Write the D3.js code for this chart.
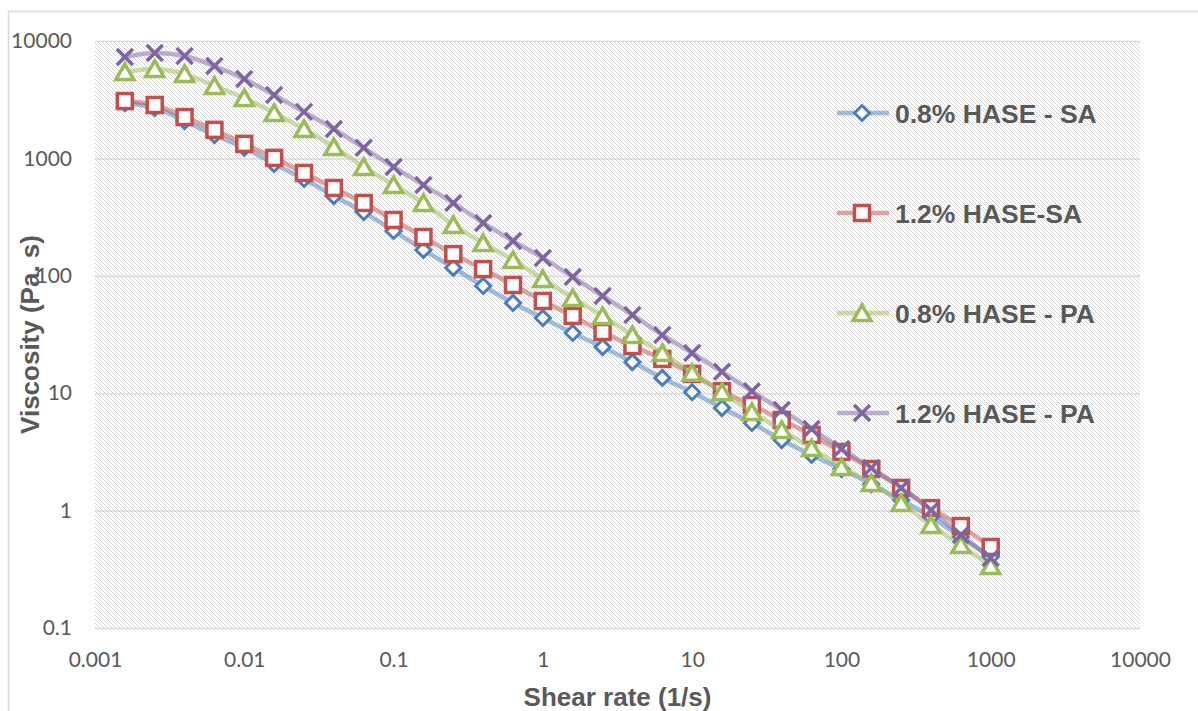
<!DOCTYPE html>
<html>
<head>
<meta charset="utf-8">
<script src="https://cdn.jsdelivr.net/npm/d3@7"></script>
<style>
  html, body { margin: 0; padding: 0; background: #ffffff; }
  svg { display: block; }
</style>
</head>
<body>
<svg id="chart" width="1198" height="711"></svg>
<script>
// Shear rates (1/s): five points per decade, 10^-2.8 .. 10^3
const shearRates = [
  0.001585, 0.002512, 0.003981, 0.00631, 0.01, 0.01585, 0.02512, 0.03981, 0.0631, 0.1,
  0.1585, 0.2512, 0.3981, 0.631, 1, 1.585, 2.512, 3.981, 6.31, 10,
  15.85, 25.12, 39.81, 63.1, 100, 158.5, 251.2, 398.1, 631, 1000
];

// Viscosity (Pa.s) for each formulation
const hase08SA = [
  2960, 2690, 2080, 1580, 1230, 896, 668, 478, 349, 241,
  166, 117, 81.9, 58.7, 43.7, 32.6, 24.7, 18.4, 13.5, 10.2,
  7.48, 5.58, 3.99, 2.98, 2.26, 1.68, 1.23, 0.882, 0.596, 0.403
];
const hase12SA = [
  3080, 2850, 2250, 1750, 1330, 1010, 751, 560, 417, 299,
  214, 153, 114, 83.5, 61.0, 45.5, 33.2, 25.2, 19.6, 14.6,
  10.4, 7.93, 5.91, 4.41, 3.16, 2.26, 1.56, 1.05, 0.739, 0.49
];
const hase08PA = [
  5440, 5780, 5240, 4140, 3270, 2440, 1780, 1250, 845, 594,
  417, 271, 190, 136, 93.9, 64.7, 45.5, 31.3, 22.0, 14.9,
  10.2, 6.92, 4.86, 3.41, 2.35, 1.72, 1.16, 0.754, 0.509, 0.337
];
const hase12PA = [
  7300, 7900, 7450, 6120, 4750, 3470, 2490, 1780, 1230, 845,
  594, 417, 282, 198, 142, 97.7, 67.3, 46.4, 31.3, 22.0,
  15.2, 10.4, 7.19, 4.96, 3.35, 2.31, 1.56, 1.01, 0.62, 0.395
];

const seriesNames = ["0.8% HASE - SA", "1.2% HASE-SA", "0.8% HASE - PA", "1.2% HASE - PA"];
const xTicks = [0.001, 0.01, 0.1, 1, 10, 100, 1000, 10000];
const yTicks = [0.1, 1, 10, 100, 1000, 10000];

const series = [
  { name: seriesNames[0], values: hase08SA, color: "#4A7EBB", marker: "diamond" },
  { name: seriesNames[1], values: hase12SA, color: "#C0504D", marker: "square" },
  { name: seriesNames[2], values: hase08PA, color: "#9BBB59", marker: "triangle" },
  { name: seriesNames[3], values: hase12PA, color: "#8064A2", marker: "cross" }
];

const svg = d3.select("#chart");
const W = 1198, H = 711;
const plot = { left: 95, right: 1140, top: 41, bottom: 628 };
const textColor = "#595959";
const tickFont = "Lato, 'Open Sans', sans-serif";
const titleFont = "'Liberation Sans', Arial, sans-serif";

// Chart-area frame
svg.append("rect")
  .attr("x", 8.5).attr("y", 11.5)
  .attr("width", W).attr("height", H)
  .attr("fill", "#ffffff")
  .attr("stroke", "#d9d9d9").attr("stroke-width", 1.5);

// Diagonal hatch fill for the plot area
const defs = svg.append("defs");
const pat = defs.append("pattern")
  .attr("id", "hatch")
  .attr("patternUnits", "userSpaceOnUse")
  .attr("width", 4).attr("height", 4);
pat.append("rect").attr("width", 4).attr("height", 4).attr("fill", "#ffffff");
for (let i = 0; i < 4; i++) {
  pat.append("rect").attr("x", i).attr("y", i).attr("width", 1).attr("height", 1).attr("fill", "#d6d6d6");
}

const x = d3.scaleLog().domain([0.001, 10000]).range([plot.left, plot.right]);
const y = d3.scaleLog().domain([0.1, 10000]).range([plot.bottom, plot.top]);

svg.append("rect")
  .attr("x", plot.left).attr("y", plot.top)
  .attr("width", plot.right - plot.left).attr("height", plot.bottom - plot.top)
  .attr("fill", "url(#hatch)");

// Horizontal gridlines at each decade
const grid = svg.append("g")
  .attr("transform", `translate(${plot.left},0)`)
  .call(d3.axisLeft(y).tickValues(yTicks).tickSize(-(plot.right - plot.left)).tickFormat(""));
grid.select(".domain").remove();
grid.selectAll(".tick line").attr("stroke", "#d9d9d9").attr("stroke-width", 1.5);

const fmt = d => d3.format("~g")(d);

// Y axis labels
const yAxis = svg.append("g")
  .attr("transform", `translate(${plot.left},0)`)
  .call(d3.axisLeft(y).tickValues(yTicks).tickSize(0).tickPadding(23).tickFormat(fmt));
yAxis.select(".domain").remove();
yAxis.selectAll("text")
  .attr("fill", textColor)
  .style("font-family", tickFont)
  .style("font-size", "21px");

// X axis labels
const xAxis = svg.append("g")
  .attr("transform", `translate(0,${plot.bottom})`)
  .call(d3.axisBottom(x).tickValues(xTicks).tickSize(0).tickPadding(24).tickFormat(fmt));
xAxis.select(".domain").remove();
xAxis.selectAll("text")
  .attr("fill", textColor)
  .style("font-family", tickFont)
  .style("font-size", "21px");

// Axis titles
svg.append("text")
  .attr("x", (plot.left + plot.right) / 2)
  .attr("y", 706)
  .attr("text-anchor", "middle")
  .attr("fill", textColor)
  .style("font-family", titleFont)
  .style("font-weight", "bold")
  .style("font-size", "26px")
  .text("Shear rate (1/s)");

svg.append("text")
  .attr("transform", `translate(39,${(plot.top + plot.bottom) / 2}) rotate(-90)`)
  .attr("text-anchor", "middle")
  .attr("fill", textColor)
  .style("font-family", titleFont)
  .style("font-weight", "bold")
  .style("font-size", "26px")
  .text("Viscosity (Pa. s)");

// Marker drawing
function drawMarker(g, type, color) {
  if (type === "diamond") {
    g.append("path").attr("d", "M0,-7.5L7.5,0L0,7.5L-7.5,0Z")
      .attr("fill", "#ffffff").attr("stroke", color).attr("stroke-width", 3);
  } else if (type === "square") {
    g.append("rect").attr("x", -7.5).attr("y", -7.5).attr("width", 15).attr("height", 15)
      .attr("fill", "#ffffff").attr("stroke", color).attr("stroke-width", 3.5);
  } else if (type === "triangle") {
    g.append("path").attr("d", "M0,-8L9,7.5L-9,7.5Z")
      .attr("fill", "#ffffff").attr("stroke", color).attr("stroke-width", 3.5)
      .attr("stroke-linejoin", "miter");
  } else {
    g.append("path").attr("d", "M-8,-8L8,8M-8,8L8,-8")
      .attr("fill", "none").attr("stroke", color).attr("stroke-width", 3.5);
  }
}

const line = d3.line()
  .x(d => x(d[0]))
  .y(d => y(d[1]))
  .curve(d3.curveCatmullRom.alpha(0.5));

series.forEach(s => {
  const pts = shearRates.map((r, i) => [r, s.values[i]]);
  const g = svg.append("g");
  g.append("path")
    .attr("d", line(pts))
    .attr("fill", "none")
    .attr("stroke", s.color)
    .attr("stroke-opacity", 0.5)
    .attr("stroke-width", 4.5);
  pts.forEach(p => {
    const m = g.append("g").attr("transform", `translate(${x(p[0])},${y(p[1])})`);
    drawMarker(m, s.marker, s.color);
  });
});

// Legend
const legendY = [113, 213, 313, 413];
series.forEach((s, i) => {
  const lg = svg.append("g").attr("transform", `translate(862,${legendY[i]})`);
  lg.append("line").attr("x1", -25).attr("x2", 27).attr("y1", 0).attr("y2", 0)
    .attr("stroke", s.color).attr("stroke-opacity", 0.5).attr("stroke-width", 4.5);
  drawMarker(lg, s.marker, s.color);
  lg.append("text")
    .attr("x", 33).attr("y", 10)
    .attr("fill", textColor)
    .style("font-family", titleFont)
    .style("font-weight", "bold")
    .style("font-size", "26.5px")
    .text(s.name);
});
</script>
</body>
</html>
